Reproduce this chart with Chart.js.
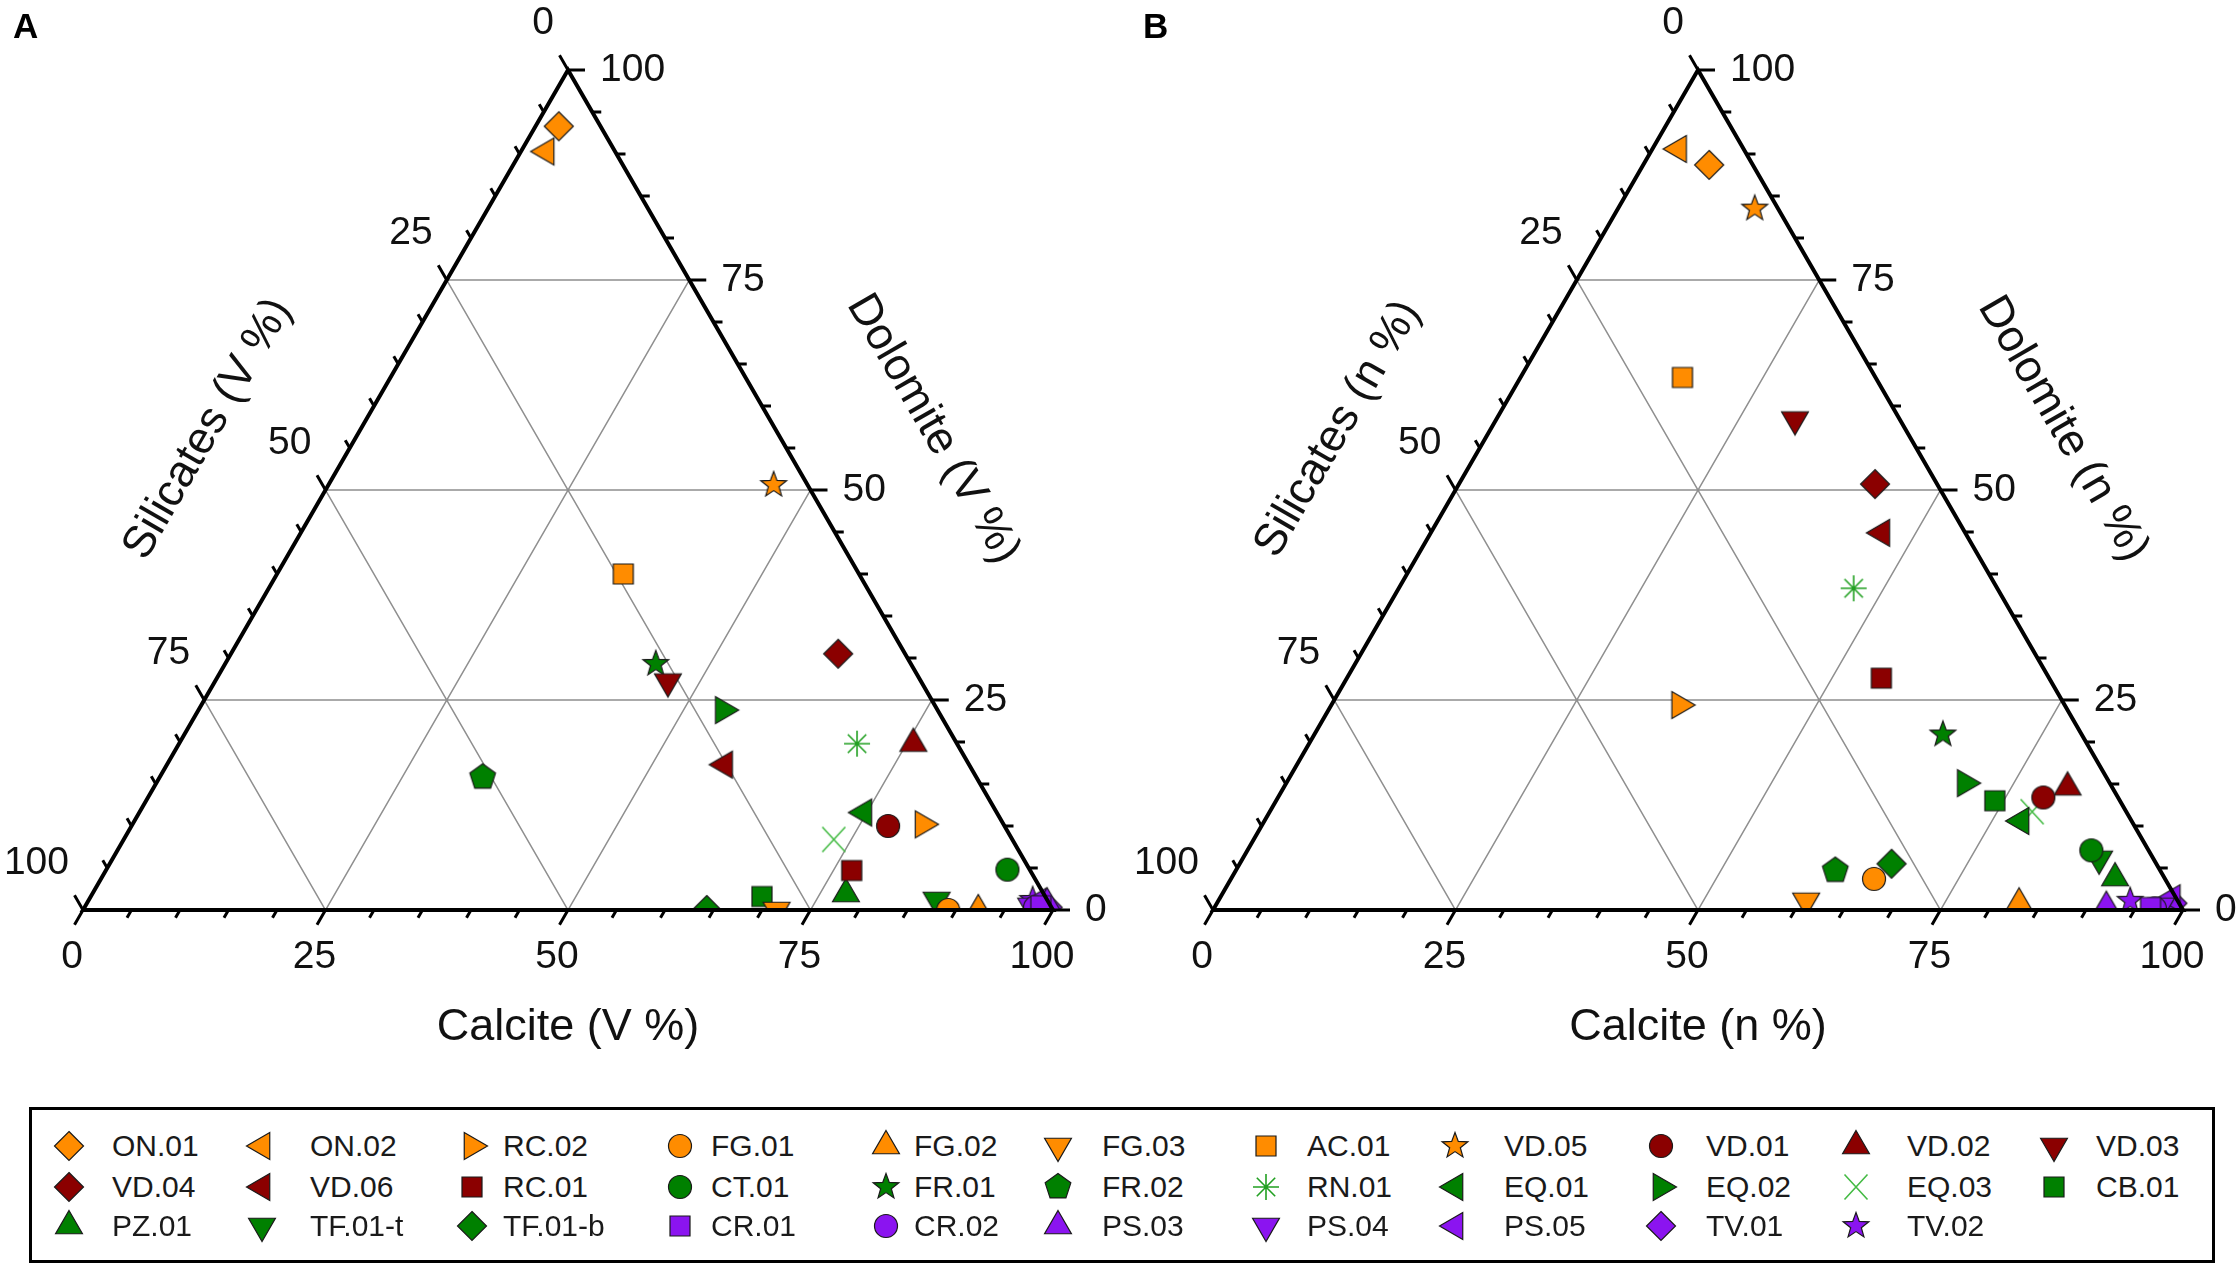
<!DOCTYPE html>
<html>
<head>
<meta charset="utf-8">
<script src="https://cdn.jsdelivr.net/npm/chart.js"></script>
<style>
  html, body { margin: 0; padding: 0; background: #fff; overflow: hidden; }
  #page { position: relative; width: 2238px; height: 1267px; background: #fff; font-family: "Liberation Sans", Arial, sans-serif; }
  canvas.panel { position: absolute; top: 0; }
  #legendBox { position: absolute; left: 29px; top: 1107px; width: 2186px; height: 156px; border: 3px solid #000; box-sizing: border-box; }
  .lgText { position: absolute; font-size: 30px; color: #1a1a1a; line-height: 34px; transform: translateY(-50%); white-space: nowrap; }
  .lgMark { position: absolute; transform: translate(-50%, -50%); }
</style>
</head>
<body>
<div id="page">
  <canvas id="chartA" class="panel" width="1119" height="1100" style="left:0px;width:1119px;height:1100px"></canvas>
  <canvas id="chartB" class="panel" width="1119" height="1100" style="left:1119px;width:1119px;height:1100px"></canvas>
  <div id="legendBox"></div>
</div>
<script>
// ---------------- DATA ----------------
const samples = ["ON.01","ON.02","RC.02","FG.01","FG.02","FG.03","AC.01","VD.05","VD.01","VD.02","VD.03",
                 "VD.04","VD.06","RC.01","CT.01","FR.01","FR.02","RN.01","EQ.01","EQ.02","EQ.03","CB.01",
                 "PZ.01","TF.01-t","TF.01-b","CR.01","CR.02","PS.03","PS.04","PS.05","TV.01","TV.02"];

// Panel A: volume %
const calciteA   = [2.4, 2.6, 81.5, 89.2, 92.3, 71.5, 35.7, 45.9, 78.0, 75.7, 46.7,
                    62.6, 57.5, 76.9, 92.9, 44.4, 33.3, 69.9, 74.7, 54.1, 73.2, 69.2,
                    77.7, 87.4, 64.3, 98.5, 98.0, 99.0, 97.5, 98.0, 99.3, 97.3];
const dolomiteA  = [93.3, 90.3, 10.2, 0.0, 0.0, 0.0, 40.0, 50.6, 10.0, 19.8, 27.2,
                    30.5, 17.3, 4.7, 4.8, 29.3, 15.8, 19.8, 11.6, 23.8, 8.4, 1.6,
                    1.9, 1.2, 0.0, 0.5, 0.3, 0.8, 0.5, 1.0, 0.3, 1.2];
const silicatesA = [4.3, 7.1, 8.3, 10.8, 7.7, 28.5, 24.3, 3.5, 12.0, 4.5, 26.1,
                    6.9, 25.2, 18.4, 2.3, 26.3, 50.9, 10.3, 13.7, 22.1, 18.4, 29.2,
                    20.4, 11.4, 35.7, 1.0, 1.7, 0.2, 2.0, 1.0, 0.4, 1.5];

// Panel B: number %
const calciteB   = [6.8, 2.7, 35.9, 66.3, 82.7, 60.6, 16.7, 14.1, 78.9, 80.8, 30.8,
                    42.9, 46.5, 55.1, 87.0, 64.8, 61.8, 46.9, 78.0, 70.0, 78.6, 74.1,
                    91.1, 88.3, 67.2, 96.5, 97.0, 91.9, 97.5, 98.2, 98.5, 94.0];
const dolomiteB  = [88.7, 90.6, 24.4, 3.7, 0.8, 1.1, 63.4, 83.5, 13.4, 14.6, 58.4,
                    50.7, 44.9, 27.6, 7.1, 20.9, 4.7, 38.3, 10.6, 15.1, 11.7, 13.0,
                    3.8, 6.1, 5.5, 0.3, 0.2, 0.4, 0.5, 1.4, 0.8, 1.1];
const silicatesB = [4.5, 6.7, 39.7, 30.0, 16.5, 38.3, 19.9, 2.4, 7.7, 4.6, 10.8,
                    6.4, 8.6, 17.3, 5.9, 14.3, 33.5, 14.8, 11.4, 14.9, 9.7, 12.9,
                    5.1, 5.6, 27.3, 3.2, 2.8, 7.7, 2.0, 0.4, 0.7, 4.9];

const axisTicks = [0, 25, 50, 75, 100];

// ---------------- STYLES ----------------
const ORANGE = "#FF8C00", DRED = "#8B0000", GREEN = "#008000", LGREEN1 = "#22A022", LGREEN2 = "#45BB45", PURPLE = "#8B14F0";
const markerShape = ["diamond","triLeft","triRight","circle","triUp","triDown","square","star","circle","triUp","triDown",
                     "diamond","triLeft","square","circle","star","pentagon","asterisk","triLeft","triRight","xcross","square",
                     "triUp","triDown","diamond","square","circle","triUp","triDown","triLeft","diamond","star"];
const markerColor = [ORANGE,ORANGE,ORANGE,ORANGE,ORANGE,ORANGE,ORANGE,ORANGE,DRED,DRED,DRED,
                     DRED,DRED,DRED,GREEN,GREEN,GREEN,LGREEN1,GREEN,GREEN,LGREEN2,GREEN,
                     GREEN,GREEN,GREEN,PURPLE,PURPLE,PURPLE,PURPLE,PURPLE,PURPLE,PURPLE];

function polygon(ctx, cx, cy, pts) {
  ctx.beginPath();
  pts.forEach((p, i) => { if (i === 0) ctx.moveTo(cx + p[0], cy + p[1]); else ctx.lineTo(cx + p[0], cy + p[1]); });
  ctx.closePath();
}
function regular(n, R, startDeg) {
  const pts = [];
  for (let i = 0; i < n; i++) {
    const a = (startDeg + i * 360 / n) * Math.PI / 180;
    pts.push([R * Math.cos(a), R * Math.sin(a)]);
  }
  return pts;
}
function drawMarker(ctx, shape, color, cx, cy) {
  ctx.save();
  ctx.fillStyle = color;
  ctx.strokeStyle = "#1a1a1a";
  ctx.lineWidth = 1.2;
  ctx.lineJoin = "miter";
  let stroked = false;
  switch (shape) {
    case "circle": ctx.beginPath(); ctx.arc(cx, cy, 11.5, 0, Math.PI * 2); break;
    case "square": ctx.beginPath(); ctx.rect(cx - 10, cy - 10, 20, 20); break;
    case "diamond": polygon(ctx, cx, cy, [[0,-14.5],[14.5,0],[0,14.5],[-14.5,0]]); break;
    case "triUp": polygon(ctx, cx, cy, regular(3, 15.5, -90)); break;
    case "triDown": polygon(ctx, cx, cy, regular(3, 15.5, 90)); break;
    case "triLeft": polygon(ctx, cx, cy, regular(3, 15.5, 180)); break;
    case "triRight": polygon(ctx, cx, cy, regular(3, 15.5, 0)); break;
    case "pentagon": polygon(ctx, cx, cy, regular(5, 13.5, -90)); break;
    case "star": {
      const pts = [];
      for (let i = 0; i < 10; i++) {
        const r = i % 2 === 0 ? 13.5 : 5.6;
        const a = (-90 + i * 36) * Math.PI / 180;
        pts.push([r * Math.cos(a), r * Math.sin(a)]);
      }
      polygon(ctx, cx, cy, pts); break;
    }
    case "asterisk": {
      ctx.strokeStyle = color; ctx.lineWidth = 1.6; ctx.beginPath();
      for (let i = 0; i < 4; i++) {
        const a = i * Math.PI / 4;
        ctx.moveTo(cx - 13 * Math.cos(a), cy - 13 * Math.sin(a));
        ctx.lineTo(cx + 13 * Math.cos(a), cy + 13 * Math.sin(a));
      }
      ctx.stroke(); stroked = true; break;
    }
    case "xcross": {
      ctx.strokeStyle = color; ctx.lineWidth = 1.6; ctx.beginPath();
      ctx.moveTo(cx - 11.5, cy - 12.5); ctx.lineTo(cx + 11.5, cy + 12.5);
      ctx.moveTo(cx + 11.5, cy - 12.5); ctx.lineTo(cx - 11.5, cy + 12.5);
      ctx.stroke(); stroked = true; break;
    }
  }
  if (!stroked) { ctx.fill(); ctx.stroke(); }
  ctx.restore();
}
function makeMarkerCanvas(shape, color) {
  const c = document.createElement("canvas");
  c.width = 40; c.height = 40;
  drawMarker(c.getContext("2d"), shape, color, 20, 20);
  return c;
}
const markerImages = samples.map((s, i) => makeMarkerCanvas(markerShape[i], markerColor[i]));

// ternary -> cartesian (unit side triangle)
const SQ = Math.sqrt(3) / 2;
function ternaryPoint(c, d, s) {
  const t = c + d + s;
  return { x: (c + d / 2) / t, y: (d * SQ) / t };
}

// ---------------- PLUGIN: ternary frame ----------------
const FONT = '"Liberation Sans", Arial, sans-serif';
const ternaryFrame = {
  id: "ternaryFrame",
  beforeDatasetsDraw(chart, args, opts) {
    const ctx = chart.ctx, xs = chart.scales.x, ys = chart.scales.y;
    const P = (c, d) => ({ x: xs.getPixelForValue(c + d / 2), y: ys.getPixelForValue(d * SQ) });
    ctx.save();
    ctx.strokeStyle = "#8f8f8f";
    ctx.lineWidth = 1.5;
    ctx.beginPath();
    axisTicks.filter(v => v > 0 && v < 100).forEach(v => {
      const t = v / 100;
      let a = P(0, t), b = P(1 - t, t); ctx.moveTo(a.x, a.y); ctx.lineTo(b.x, b.y);
      a = P(t, 0); b = P(t, 1 - t); ctx.moveTo(a.x, a.y); ctx.lineTo(b.x, b.y);
      a = P(1 - t, 0); b = P(0, 1 - t); ctx.moveTo(a.x, a.y); ctx.lineTo(b.x, b.y);
    });
    ctx.stroke();
    ctx.restore();
  },
  afterDatasetsDraw(chart, args, opts) {
    const ctx = chart.ctx, xs = chart.scales.x, ys = chart.scales.y;
    const P = (c, d) => ({ x: xs.getPixelForValue(c + d / 2), y: ys.getPixelForValue(d * SQ) });
    ctx.save();
    // frame
    const A = P(0, 0), B = P(1, 0), C = P(0, 1);
    ctx.strokeStyle = "#000"; ctx.lineWidth = 4; ctx.lineJoin = "miter";
    ctx.beginPath(); ctx.moveTo(A.x, A.y); ctx.lineTo(B.x, B.y); ctx.lineTo(C.x, C.y); ctx.closePath(); ctx.stroke();
    // ticks
    ctx.lineWidth = 3; ctx.lineCap = "butt";
    ctx.beginPath();
    for (let v = 0; v <= 100; v += 5) {
      const len = v % 25 === 0 ? 17 : 9;
      const f = v / 100;
      let p = P(f, 0); ctx.moveTo(p.x, p.y); ctx.lineTo(p.x - 0.5 * len, p.y + 0.866 * len);
      p = P(1 - f, f); ctx.moveTo(p.x, p.y); ctx.lineTo(p.x + len, p.y);
      p = P(0, 1 - f); ctx.moveTo(p.x, p.y); ctx.lineTo(p.x - 0.5 * len, p.y - 0.866 * len);
    }
    ctx.stroke();
    // tick labels
    ctx.fillStyle = "#111";
    ctx.font = "39px " + FONT;
    ctx.textBaseline = "middle";
    axisTicks.forEach(v => {
      const f = v / 100;
      let p = P(f, 0);
      ctx.textAlign = "center"; ctx.fillText(String(v), p.x - 11, p.y + 47);
      p = P(1 - f, f);
      ctx.textAlign = "left"; ctx.fillText(String(v), p.x + 32, p.y);
      p = P(0, 1 - f);
      ctx.textAlign = "right"; ctx.fillText(String(v), p.x - 14, p.y - 47);
    });
    // axis titles
    ctx.font = "45px " + FONT;
    ctx.textAlign = "center";
    const u = opts.unit;
    const mb = P(0.5, 0);
    ctx.fillText("Calcite (" + u + ")", mb.x, mb.y + 118);
    const ml = P(0, 0.5);
    ctx.save(); ctx.translate(ml.x - 117.5, ml.y - 61); ctx.rotate(-Math.PI / 3);
    ctx.fillText("Silicates (" + u + ")", 0, 0); ctx.restore();
    const mr = P(0.5, 0.5);
    ctx.save(); ctx.translate(mr.x + 122.5, mr.y - 61); ctx.rotate(Math.PI / 3);
    ctx.fillText("Dolomite (" + u + ")", 0, 0); ctx.restore();
    // panel letter
    ctx.font = "bold 35px " + FONT;
    ctx.textAlign = "left";
    ctx.fillStyle = "#000";
    ctx.fillText(opts.letter, A.x - 70, 28);
    ctx.restore();
  }
};

function buildChart(canvasId, calc, dolo, sili, letter, unit, padLeft, padRight) {
  const datasets = samples.map((name, i) => ({
    label: name,
    data: [ternaryPoint(calc[i], dolo[i], sili[i])],
    pointStyle: markerImages[i],
    pointRadius: 14,
    pointHoverRadius: 14,
    clip: { left: false, top: false, right: false, bottom: 0 }
  }));
  return new Chart(document.getElementById(canvasId), {
    type: "scatter",
    data: { datasets },
    plugins: [ternaryFrame],
    options: {
      responsive: false,
      animation: false,
      devicePixelRatio: 1,
      layout: { padding: { left: padLeft, right: padRight, top: 70, bottom: 190 } },
      scales: {
        x: { type: "linear", min: 0, max: 1, display: false },
        y: { type: "linear", min: 0, max: SQ, display: false }
      },
      plugins: {
        legend: { display: false },
        tooltip: { enabled: false },
        ternaryFrame: { letter, unit }
      },
      events: []
    }
  });
}

buildChart("chartA", calciteA, dolomiteA, silicatesA, "A", "V %", 83, 66);
buildChart("chartB", calciteB, dolomiteB, silicatesB, "B", "n %", 94, 55);

// ---------------- LEGEND ----------------
const legendMarkX = [69, 262, 472, 680, 886, 1058, 1266, 1455, 1661, 1856, 2054];
const legendTextX = [112, 310, 503, 711, 914, 1102, 1307, 1504, 1706, 1907, 2096];
const legendRowY = [1146, 1187, 1226];
const page = document.getElementById("page");
samples.forEach((name, i) => {
  const row = Math.floor(i / 11), col = i % 11;
  const m = document.createElement("canvas");
  m.width = 40; m.height = 40; m.className = "lgMark";
  m.style.left = legendMarkX[col] + "px"; m.style.top = legendRowY[row] + "px";
  drawMarker(m.getContext("2d"), markerShape[i], markerColor[i], 20, 20);
  page.appendChild(m);
  const t = document.createElement("div");
  t.className = "lgText"; t.textContent = name;
  t.style.left = legendTextX[col] + "px"; t.style.top = legendRowY[row] + "px";
  page.appendChild(t);
});
</script>
</body>
</html>
